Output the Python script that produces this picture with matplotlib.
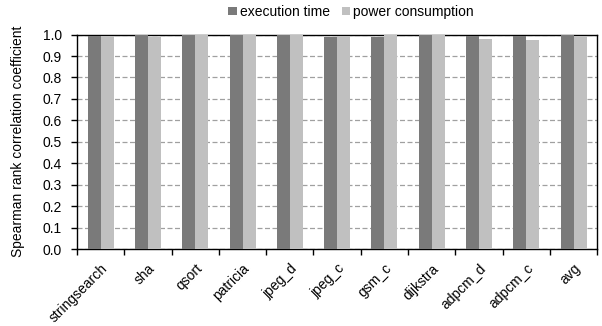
import numpy as np
import matplotlib
matplotlib.use("Agg")
from matplotlib import pyplot as plt

plt.rcParams['font.family'] = ['Liberation Sans', 'DejaVu Sans']

benchmarks = ["stringsearch", "sha", "qsort", "patricia", "jpeg_d", "jpeg_c",
              "gsm_c", "dijkstra", "adpcm_d", "adpcm_c", "avg"]
exec_time = [0.992, 1.000, 1.000, 1.000, 1.000, 0.987, 0.988, 1.000, 0.992, 0.992, 0.996]
power = [0.992, 0.990, 0.999, 0.999, 1.000, 0.992, 1.000, 0.999, 0.977, 0.973, 0.993]

fig = plt.figure(figsize=(6.02, 3.26), dpi=100)
ax = fig.add_axes([0.128, 0.236, 0.864, 0.658])

x = np.arange(len(benchmarks))
w = 0.275
ax.bar(x - w / 2, exec_time, w, color="#7a7a7a", label="execution time", zorder=3)
ax.bar(x + w / 2, power, w, color="#c0c0c0", label="power consumption", zorder=3)

ax.set_xlim(-0.5, len(benchmarks) - 0.5)
ax.set_ylim(0, 1.0)
ax.set_yticks(np.arange(0, 1.01, 0.1))
ax.set_yticklabels(["{:.1f}".format(v) for v in np.arange(0, 1.01, 0.1)], fontsize=10)
ax.yaxis.grid(True, linestyle=(0, (4, 2)), color="#a0a0a0", linewidth=0.9, zorder=0)

# labels centred under groups, tick marks on group boundaries
ax.set_xticks(x)
ax.set_xticklabels(benchmarks, rotation=45, ha="right", va="top",
                   rotation_mode="anchor", fontsize=10)
ax.tick_params(axis="x", which="major", length=0, pad=9)
ax.set_xticks(np.arange(-0.5, len(benchmarks)), minor=True)
ax.tick_params(axis="x", which="minor", length=4, direction="out", width=1)
ax.tick_params(axis="y", length=4, direction="out", width=1, pad=7)

for s in ax.spines.values():
    s.set_color("black")
    s.set_linewidth(1)

ax.set_ylabel("Spearman rank correlation coefficient", fontsize=10)
ax.yaxis.set_label_coords(-0.1, 0.5)

ax.legend(loc="center", bbox_to_anchor=(0.527, 1.106), ncol=2, frameon=False,
          fontsize=10, handlelength=0.6, handleheight=0.6, handletextpad=0.2,
          columnspacing=0.9, borderaxespad=0, borderpad=0)

fig.savefig("out.png", dpi=100)
